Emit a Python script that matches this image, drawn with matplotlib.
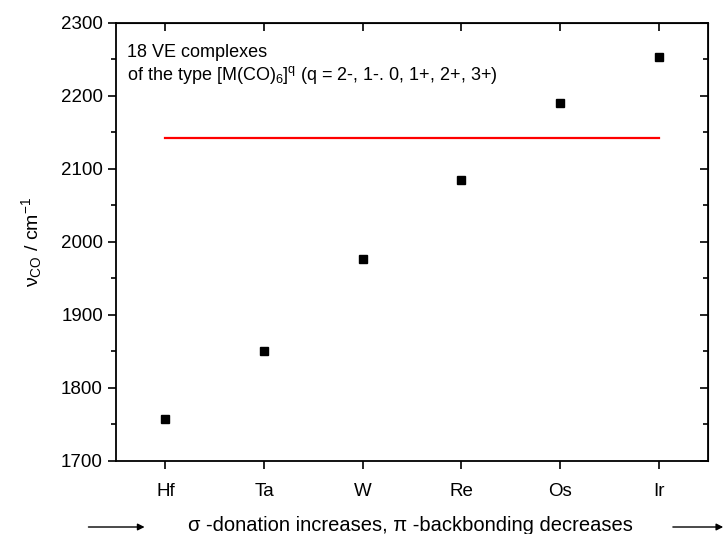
import numpy as np
import matplotlib.pyplot as plt
from matplotlib.ticker import MultipleLocator

plt.rcParams['font.family'] = ['Liberation Sans', 'DejaVu Sans']
plt.rcParams['mathtext.fontset'] = 'custom'
plt.rcParams['mathtext.rm'] = 'Liberation Sans'
plt.rcParams['mathtext.it'] = 'Liberation Sans'

# metals and CO stretching frequencies of [M(CO)6]^q
metals = ['Hf', 'Ta', 'W', 'Re', 'Os', 'Ir']
nu_co = [1757, 1850, 1977, 2085, 2190, 2254]
free_co = 2143

fig = plt.figure(figsize=(7.26, 5.34), dpi=100)
ax = fig.add_axes([0.160, 0.137, 0.815, 0.820])

x = np.arange(len(metals))
ax.plot(x, nu_co, 's', color='black', markersize=6.2)
ax.plot([x[0], x[-1]], [free_co, free_co], color='red', linewidth=1.6)

ax.set_xlim(-0.5, 5.5)
ax.set_ylim(1700, 2300)
ax.set_xticks(x)
ax.set_xticklabels(metals)
ax.yaxis.set_major_locator(MultipleLocator(100))
ax.yaxis.set_minor_locator(MultipleLocator(50))

ax.tick_params(axis='both', which='both', direction='out', labelsize=13.5, width=1.2)
ax.tick_params(which='major', length=6)
ax.tick_params(which='minor', length=3.5)
ax.tick_params(axis='x', pad=10)
for s in ax.spines.values():
    s.set_linewidth(1.3)

# inward ticks on top and right
axt = ax.secondary_xaxis('top')
axt.set_xticks(x)
axt.tick_params(direction='in', length=6, width=1.2, labeltop=False)
axr = ax.secondary_yaxis('right')
axr.yaxis.set_major_locator(MultipleLocator(100))
axr.yaxis.set_minor_locator(MultipleLocator(50))
axr.tick_params(which='both', direction='in', width=1.2, labelright=False)
axr.tick_params(which='major', length=6)
axr.tick_params(which='minor', length=3.5)

ax.set_ylabel(r'$\nu_{\rm CO}$ / cm$^{-1}$', fontsize=14, labelpad=12)

ax.text(0.018, 0.922, '18 VE complexes', transform=ax.transAxes,
        fontsize=13, va='baseline')
ax.text(0.018, 0.870,
        r'of the type [M(CO)$_6$]$^q$ (q = 2-, 1-. 0, 1+, 2+, 3+)',
        transform=ax.transAxes, fontsize=13, va='baseline')

fig.text(0.565, 0.016, 'σ -donation increases, π -backbonding decreases',
         ha='center', va='center', fontsize=14.5)
ax.annotate('', xy=(0.203, 0.0131), xytext=(0.118, 0.0131), xycoords='figure fraction',
            arrowprops=dict(arrowstyle='-|>', color='black', lw=1, mutation_scale=10))
ax.annotate('', xy=(1.0, 0.0131), xytext=(0.923, 0.0131), xycoords='figure fraction',
            arrowprops=dict(arrowstyle='-|>', color='black', lw=1, mutation_scale=10))

fig.savefig('out.png', dpi=100)
